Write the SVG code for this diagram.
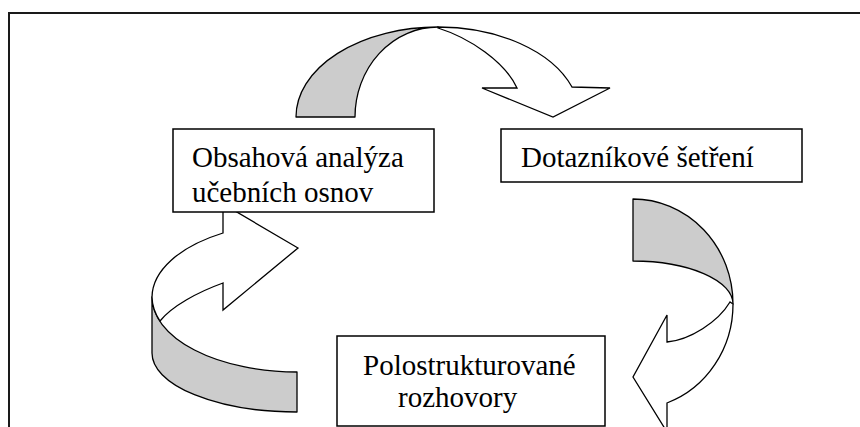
<svg xmlns="http://www.w3.org/2000/svg" width="860" height="427" viewBox="0 0 860 427">
<style>
.frame{fill:none;stroke:#1a1a1a;stroke-width:2}
.box{fill:#fff;stroke:#000;stroke-width:1.5}
.shade{fill:#cccccc;stroke:#000;stroke-width:1.3;stroke-linejoin:round}
.band{fill:#fff;stroke:#000;stroke-width:1.3;stroke-linejoin:miter}
.lbl{font-family:"Liberation Serif","Times New Roman",serif;font-size:29px;fill:#000}
</style>
<rect width="860" height="427" fill="#fff"/>
<path class="frame" d="M9 427V13H860"/>
<g id="connectors">
  <g id="arrow-top">
    <path class="shade" d="M296,117 A142,90 0 0 1 438,27 A83,90 0 0 0 355,117 Z"/>
    <path class="band" d="M438,27 A142,90 0 0 1 572,87 L610,88 L553,117 L482,88 L517,88 C505,62 470,38 438,28 Z"/>
  </g>
  <g id="arrow-right">
    <path class="shade" d="M633,199 A100,105 0 0 1 733,304 A100,43 0 0 0 633,261 Z"/>
    <path class="band" d="M733,304 A100,105 0 0 1 667,403 L667,432 L633,377 L667,315 L667,342 C690,340 718,322 730,302 Z"/>
  </g>
  <g id="arrow-left">
    <path class="shade" d="M152,297 A145,75 0 0 0 297,372 L297,412 A145,59 0 0 1 152,353 Z"/>
    <path class="band" d="M223,233 A145,75 0 0 0 152,297 A145,75 0 0 0 160,321 C172,306 198,292 223,283 L223,310 L298,248 L223,204 Z"/>
  </g>
</g>
<g id="node-obsahova">
  <rect class="box" x="173" y="129" width="261" height="83"/>
  <text class="lbl" x="192" y="167">Obsahová analýza</text>
  <text class="lbl" x="192" y="202">učebních osnov</text>
</g>
<g id="node-dotaznik">
  <rect class="box" x="501" y="129" width="301" height="53"/>
  <text class="lbl" x="521" y="167">Dotazníkové šetření</text>
</g>
<g id="node-rozhovory">
  <rect class="box" x="337" y="336" width="268" height="90"/>
  <text class="lbl" x="363" y="375">Polostrukturované</text>
  <text class="lbl" x="398" y="407">rozhovory</text>
</g>
</svg>
